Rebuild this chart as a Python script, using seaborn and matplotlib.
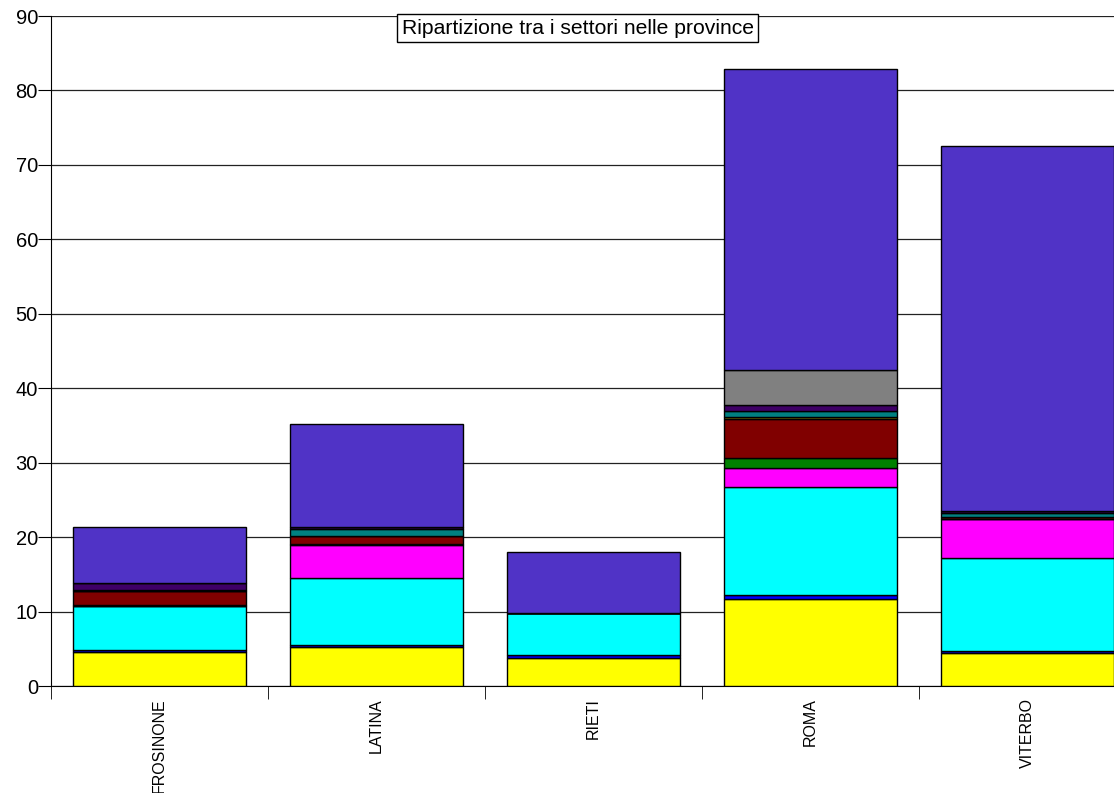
import numpy as np
import pandas as pd
import seaborn as sns
from matplotlib import pyplot as plt

# province categories
province = ['FROSINONE', 'LATINA', 'RIETI', 'ROMA', 'VITERBO']

# sector values (stacked bottom -> top)
giallo  = [4.6, 5.3, 3.7, 11.65, 4.4]
blu     = [0.2, 0.15, 0.45, 0.57, 0.3]
ciano   = [5.95, 9.1, 5.7, 14.47, 12.45]
magenta = [0.0, 4.4, 0.0, 2.55, 5.3]
verde   = [0.15, 0.1, 0.0, 1.34, 0.0]
bordeaux = [1.9, 1.1, 0.0, 5.24, 0.2]
oliva   = [0.0, 0.0, 0.0, 0.36, 0.0]
petrolio = [0.1, 0.9, 0.0, 0.76, 0.65]
indaco  = [1.0, 0.25, 0.0, 0.81, 0.15]
grigio  = [0.0, 0.0, 0.0, 4.66, 0.0]
viola   = [7.5, 13.85, 8.2, 40.5, 49.1]

series = [giallo, blu, ciano, magenta, verde, bordeaux, oliva, petrolio, indaco, grigio, viola]
colori = ['#FFFF00', '#0000FF', '#00FFFF', '#FF00FF', '#008000', '#800000',
          '#808000', '#008080', '#3F0066', '#808080', '#5033C6']

sns.set_style('white')
plt.rcParams['font.family'] = ['Liberation Sans', 'DejaVu Sans']
plt.rcParams['text.color'] = 'black'
plt.rcParams['xtick.color'] = 'black'
plt.rcParams['ytick.color'] = 'black'

fig = plt.figure(figsize=(11.14, 7.93), dpi=100)
ax = fig.add_axes([51 / 1114, 107 / 793, 1063 / 1114, 670 / 793])

bottom = np.zeros(len(province))
for vals, col in zip(series, colori):
    df = pd.DataFrame({'provincia': province, 'valore': vals})
    sns.barplot(data=df, x='provincia', y='valore', order=province, color=col,
                bottom=bottom, width=0.8, edgecolor='black', linewidth=1,
                saturation=1, ax=ax, zorder=3)
    bottom = bottom + np.array(vals)

ax.set_ylim(0, 90)
ax.set_xlim(-0.5, 4.399)
ax.set_yticks(range(0, 91, 10))
ax.yaxis.grid(True, color='#222222', linewidth=0.9)
ax.set_axisbelow(True)
ax.set_xlabel('')
ax.set_ylabel('')

for s in ['top', 'right']:
    ax.spines[s].set_visible(False)
ax.spines['left'].set_color('black')
ax.spines['bottom'].set_color('black')

ax.tick_params(axis='y', left=True, length=9.4, color='black', labelcolor='black',
               labelsize=14.5, pad=0)
ax.set_xticks(range(len(province)))
ax.set_xticklabels(province, rotation=90, fontsize=11.5)
ax.tick_params(axis='x', which='major', length=0, pad=9, labelcolor='black')
ax.set_xticks([-0.5, 0.5, 1.5, 2.5, 3.5], minor=True)
ax.tick_params(axis='x', which='minor', bottom=True, length=9.4, color='black')

ax.text(0.4953, 0.9820, 'Ripartizione tra i settori nelle province', transform=ax.transAxes,
        ha='center', va='center', fontsize=15.2, color='black', zorder=5,
        bbox=dict(boxstyle='square,pad=0.2', facecolor='white', edgecolor='black', linewidth=1))

fig.savefig('out.png', dpi=100)
